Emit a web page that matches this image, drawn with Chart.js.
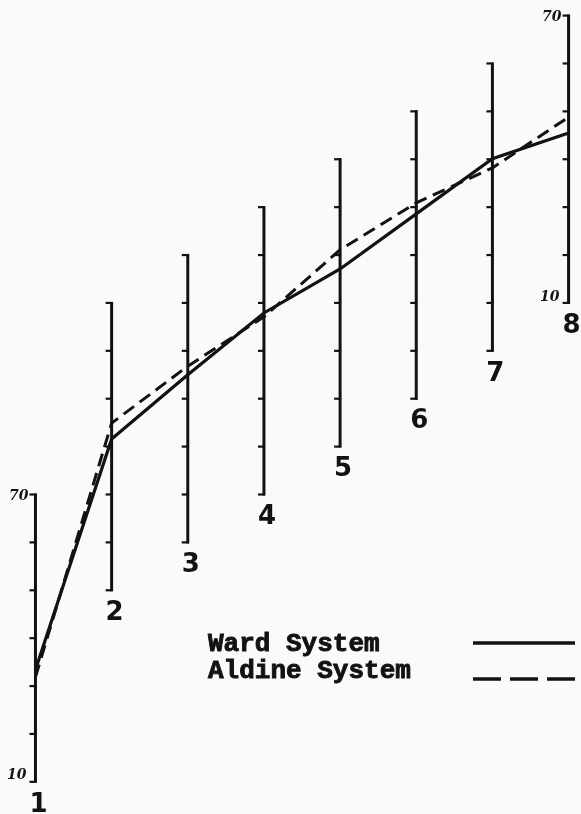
<!DOCTYPE html>
<html lang="en">
<head>
<meta charset="UTF-8" />
<title>Ward System x Aldine System</title>
<script src="https://cdn.jsdelivr.net/npm/chart.js"></script>
<style>
  body { margin: 0; background: #fafaf9; }
  #grafico { display: block; }
</style>
</head>
<body>
<canvas id="grafico" width="581" height="814"></canvas>
<script>
  // eixos verticais (1 a 8) e quanto cada um sobe em relacao ao primeiro
  const eixos = [1, 2, 3, 4, 5, 6, 7, 8];
  const deslocamento = [0, 40, 50, 60, 70, 80, 90, 100];
  // marcas de cada eixo (10 a 70)
  const marcas = [10, 20, 30, 40, 50, 60, 70];

  // valores lidos em cada eixo
  const ward = [33.4, 41.6, 45.0, 47.9, 47.1, 48.6, 50.1, 45.5];
  const aldine = [31.9, 44.9, 46.8, 47.1, 51.1, 50.9, 48.2, 48.8];

  const legendas = ['Ward System', 'Aldine System'];
  const tinta = '#121212';

  // leva o valor de cada eixo para a escala comum
  const pontos = serie => serie.map((v, i) => ({ x: eixos[i], y: v + deslocamento[i] }));

  // desenha os eixos com as marcas e os numeros, e a legenda
  const eixosPlugin = {
    id: 'eixos',
    beforeDatasetsDraw(chart) {
      const { ctx, scales: { x, y } } = chart;
      ctx.save();
      ctx.strokeStyle = tinta;
      ctx.fillStyle = tinta;
      eixos.forEach((n, i) => {
        const px = x.getPixelForValue(n);
        const topo = y.getPixelForValue(marcas[marcas.length - 1] + deslocamento[i]);
        const base = y.getPixelForValue(marcas[0] + deslocamento[i]);

        ctx.lineWidth = 3;
        ctx.beginPath();
        ctx.moveTo(px, topo - 1);
        ctx.lineTo(px, base + 1);
        ctx.stroke();

        ctx.lineWidth = 2.2;
        marcas.forEach(m => {
          const py = y.getPixelForValue(m + deslocamento[i]);
          ctx.beginPath();
          ctx.moveTo(px - 6, py);
          ctx.lineTo(px + 1, py);
          ctx.stroke();
        });

        ctx.font = 'bold 26px "DejaVu Sans"';
        ctx.textAlign = 'center';
        ctx.textBaseline = 'middle';
        ctx.fillText(String(n), px + 3, base + 23);

        // 10 e 70 so no primeiro e no ultimo eixo
        if (i === 0 || i === eixos.length - 1) {
          ctx.font = 'italic bold 14px "DejaVu Serif"';
          ctx.textAlign = 'right';
          ctx.fillText(String(marcas[marcas.length - 1]), px - 7, topo + 2);
          ctx.fillText(String(marcas[0]), px - 9, base - 6);
        }
      });
      ctx.restore();
    },
    afterDraw(chart) {
      const ctx = chart.ctx;
      ctx.save();
      ctx.fillStyle = tinta;
      ctx.strokeStyle = tinta;
      ctx.font = 'bold 26px "Liberation Mono"';
      ctx.textAlign = 'left';
      ctx.textBaseline = 'middle';
      ctx.lineWidth = 0.9;
      ctx.fillText(legendas[0], 208, 644);
      ctx.strokeText(legendas[0], 208, 644);
      ctx.fillText(legendas[1], 208, 671);
      ctx.strokeText(legendas[1], 208, 671);

      ctx.lineWidth = 3.5;
      ctx.beginPath();
      ctx.moveTo(473, 643);
      ctx.lineTo(575, 643);
      ctx.stroke();

      ctx.setLineDash([28, 9]);
      ctx.beginPath();
      ctx.moveTo(473, 679);
      ctx.lineTo(575, 679);
      ctx.stroke();
      ctx.restore();
    }
  };

  new Chart(document.getElementById('grafico'), {
    type: 'line',
    data: {
      datasets: [{
        label: legendas[0],
        data: pontos(ward),
        borderColor: tinta,
        borderWidth: 3.2,
        pointRadius: 0,
        tension: 0,
        fill: false
      }, {
        label: legendas[1],
        data: pontos(aldine),
        borderColor: tinta,
        borderWidth: 3,
        borderDash: [13, 7],
        pointRadius: 0,
        tension: 0,
        fill: false
      }]
    },
    options: {
      responsive: false,
      animation: false,
      devicePixelRatio: 1,
      layout: { padding: { left: 5, right: 1, top: 6, bottom: 13 } },
      scales: {
        x: { type: 'linear', min: 0.6, max: 8.15, display: false },
        y: { type: 'linear', min: 6, max: 172, display: false }
      },
      plugins: {
        legend: { display: false },
        tooltip: { enabled: false }
      }
    },
    plugins: [eixosPlugin]
  });
</script>
</body>
</html>
